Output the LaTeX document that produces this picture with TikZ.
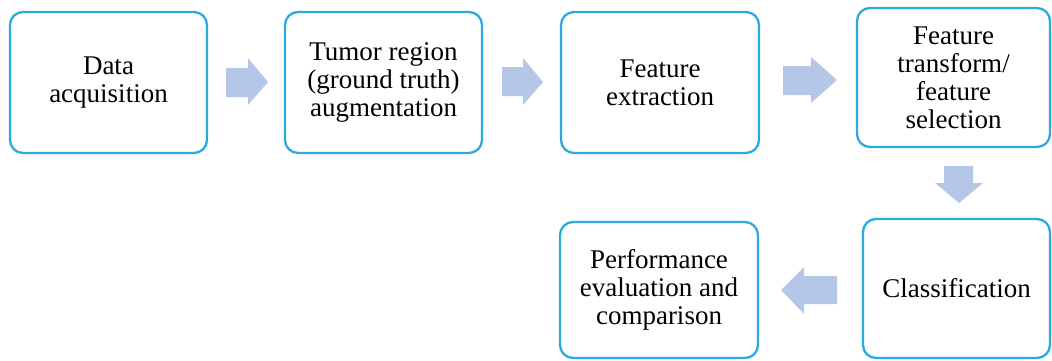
\documentclass[tikz,border=0pt]{standalone}
\usepackage{fontspec}
\setmainfont{Liberation Serif}
\definecolor{boxline}{HTML}{29ABE2}
\definecolor{arrowfill}{HTML}{B4C7E7}
\begin{document}
\begin{tikzpicture}[x=1pt,y=-1pt,
  box/.style={draw=boxline, line width=2.3pt, rounded corners=13pt, fill=white,
    align=center, inner sep=0pt, font=\fontsize{27}{28}\selectfont},
  blockarrow/.style={fill=arrowfill, draw=none}]
\useasboundingbox (0,0) rectangle (1052,360);
\node[box, minimum width=197, minimum height=141] (b1) at (108.5,82.5) {Data\\acquisition};
\node[box, minimum width=197, minimum height=141] (b2) at (383.5,82.5) {Tumor region\\(ground truth)\\augmentation};
\node[box, minimum width=198, minimum height=141] (b3) at (660,82.5) {Feature\\extraction};
\node[box, minimum width=193, minimum height=139] (b4) at (953.5,77.5) {Feature\\transform/\\feature\\selection};
\node[box, minimum width=187, minimum height=139] (b5) at (956.5,288.5) {Classification};
\node[box, minimum width=198, minimum height=136] (b6) at (659,290) {Performance\\evaluation and\\comparison};
% block arrows
\fill[blockarrow] (226,68) -- (248,68) -- (248,58) -- (268,82) -- (248,105) -- (248,97) -- (226,97) -- cycle;
\fill[blockarrow] (502,67) -- (523,67) -- (523,58) -- (543,82) -- (523,105) -- (523,96) -- (502,96) -- cycle;
\fill[blockarrow] (783,66) -- (811,66) -- (811,57) -- (837,80) -- (811,103) -- (811,95) -- (783,95) -- cycle;
\fill[blockarrow] (944,166) -- (973,166) -- (973,183) -- (983,183) -- (959,203) -- (935,183) -- (944,183) -- cycle;
\fill[blockarrow] (837,276) -- (804,276) -- (804,267) -- (781,290) -- (804,314) -- (804,304) -- (837,304) -- cycle;
\end{tikzpicture}
\end{document}
